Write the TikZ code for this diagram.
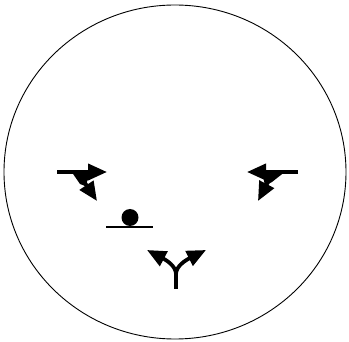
\documentclass[tikz,border=0pt]{standalone}
\usepackage{tikz}
\usetikzlibrary{arrows.meta}

\begin{document}
\begin{tikzpicture}[
      x=1pt, y=-1pt,
      rim/.style={draw, line width=0.9pt},
      arrow/.style={-{Triangle[length=19pt, width=16pt]}, line width=3.8pt},
      wedge/.style={fill=black}
    ]
    \useasboundingbox (0,0) rectangle (349,342);
    \draw[rim] (175,172) ellipse [x radius=171, y radius=167];

    % left turn sign
    \coordinate (lstart) at (57,172);
    \coordinate (lend) at (107,172);
    \coordinate (lkink) at (83,180);
    \coordinate (ltip) at (97,201);
    \draw[arrow] (lstart) -- (lend);
    \fill[wedge] (71,171) -- (92,171) -- (85,186) -- (80,184) -- cycle;
    \draw[arrow] (lkink) -- (ltip);

    % right turn sign
    \coordinate (rstart) at (298,172);
    \coordinate (rend) at (247,172);
    \coordinate (rkink) at (269,180);
    \coordinate (rtip) at (258,201);
    \draw[arrow] (rstart) -- (rend);
    \fill[wedge] (286,171) -- (262,171) -- (265,186) -- (272,182) -- cycle;
    \draw[arrow] (rkink) -- (rtip);

    % dot on the line
    \coordinate (dot) at (130,217.5);
    \draw[line width=2.6pt] (106,227) -- (153,227);
    \fill (dot) circle [radius=8.5];

    % fork
    \coordinate (stem) at (176,289);
    \coordinate (split) at (176,274);
    \draw[line width=3.8pt] (stem) -- (split);
    \draw[arrow] (split) .. controls (176,266) and (166,260) .. (147,250);
    \draw[arrow] (split) .. controls (176,266) and (186,260) .. (206,250);
  \end{tikzpicture}
\end{document}
